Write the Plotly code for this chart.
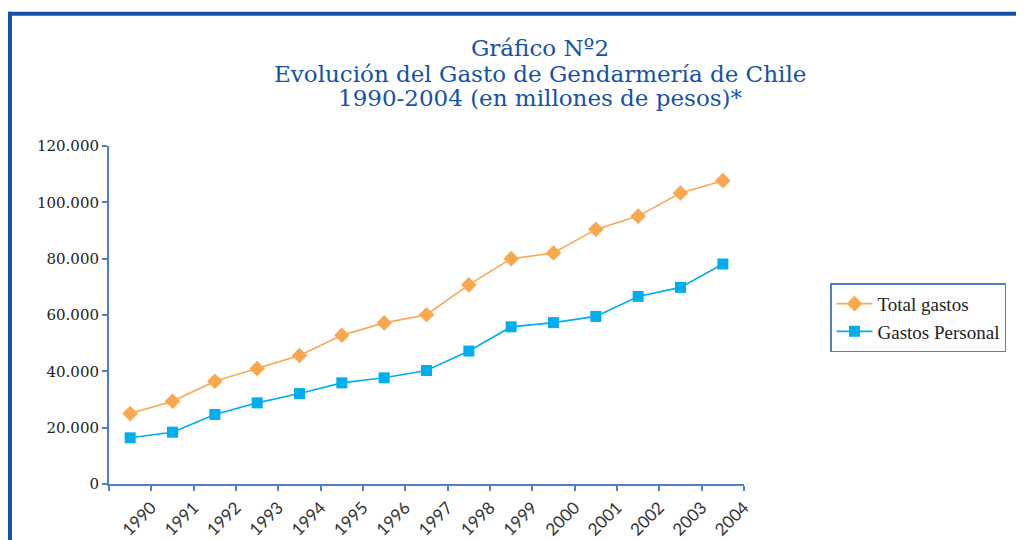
import plotly.graph_objects as go

years = ["1990", "1991", "1992", "1993", "1994", "1995", "1996", "1997",
         "1998", "1999", "2000", "2001", "2002", "2003", "2004"]
total_gastos = [25000, 29400, 36500, 41000, 45600, 52800, 57200, 60100,
                70700, 80000, 82000, 90400, 95100, 103300, 107700]
gastos_personal = [16400, 18400, 24700, 28800, 32100, 35900, 37700, 40300,
                   47200, 55800, 57300, 59500, 66600, 69800, 78100]
title_lines = ["Gráfico Nº2",
               "Evolución del Gasto de Gendarmería de Chile",
               "1990-2004 (en millones de pesos)*"]

xpos = [i + 0.5 for i in range(len(years))]

ORANGE = "#f9a84f"
CYAN = "#00aeef"
AXIS = "#4f7fc4"
FRAME = "#1452a8"

# page body has an 8px margin; work in screen coordinates and convert
OFF = 8
W, H = 1024 - OFF, 540 - OFF
SX0, SX1, SY0, SY1 = 109, 744, 145.5, 484  # plot area in screen px
L, R = SX0 - OFF, W - (SX1 - OFF)
T, B = SY0 - OFF, H - (SY1 - OFF)
pw, ph = SX1 - SX0, SY1 - SY0


def px(x):
    return (x - SX0) / pw


def py(y):
    return (SY1 - y) / ph


fig = go.Figure()
fig.add_trace(go.Scatter(
    x=xpos, y=total_gastos, name="Total gastos", mode="lines+markers",
    line=dict(color=ORANGE, width=1.6),
    marker=dict(symbol="diamond", size=12, color=ORANGE),
))
fig.add_trace(go.Scatter(
    x=xpos, y=gastos_personal, name="Gastos Personal", mode="lines+markers",
    line=dict(color=CYAN, width=1.6),
    marker=dict(symbol="square", size=11, color=CYAN),
))

annotations = []
for line, yc in zip(title_lines, [47, 73, 97]):
    annotations.append(dict(
        text=line, xref="paper", yref="paper", x=px(540), y=py(yc),
        xanchor="center", yanchor="middle", showarrow=False,
        font=dict(family="DejaVu Serif, serif", size=23, color=FRAME),
    ))

fig.update_layout(
    width=W, height=H,
    margin=dict(l=L, r=R, t=T, b=B, autoexpand=False),
    paper_bgcolor="white", plot_bgcolor="white",
    separators=",.",
    showlegend=True,
    annotations=annotations,
    xaxis=dict(
        range=[0, 15], showgrid=False, zeroline=False,
        showline=True, linecolor=AXIS, linewidth=2,
        tickmode="array", tickvals=list(range(0, 16)),
        ticktext=[""] + years,
        ticks="outside", ticklen=5, tickcolor=AXIS, tickwidth=2,
        tickangle=-45,
        tickfont=dict(family="Lato, DejaVu Sans, sans-serif", size=17, color="#333333"),
        fixedrange=True,
    ),
    yaxis=dict(
        range=[0, 120000], showgrid=False, zeroline=False,
        showline=True, linecolor=AXIS, linewidth=2,
        tickmode="array", tickvals=[0, 20000, 40000, 60000, 80000, 100000, 120000],
        tickformat=",d",
        ticks="outside", ticklen=5, tickcolor=AXIS, tickwidth=2,
        tickfont=dict(family="DejaVu Serif, serif", size=15, color="#222222"),
        fixedrange=True,
    ),
    legend=dict(
        x=px(830), y=py(283), xanchor="left", yanchor="top",
        bordercolor=AXIS, borderwidth=1.5, bgcolor="white",
        font=dict(family="Liberation Serif, serif", size=19, color="#222222"),
        itemwidth=36, tracegroupgap=0,
    ),
    shapes=[
        dict(type="line", xref="paper", yref="paper",
             x0=px(8), x1=px(1030), y0=py(13), y1=py(13),
             line=dict(color=FRAME, width=4)),
        dict(type="line", xref="paper", yref="paper",
             x0=px(10), x1=px(10), y0=py(11), y1=py(545),
             line=dict(color=FRAME, width=4)),
    ],
)

fig.write_html("out.html")
